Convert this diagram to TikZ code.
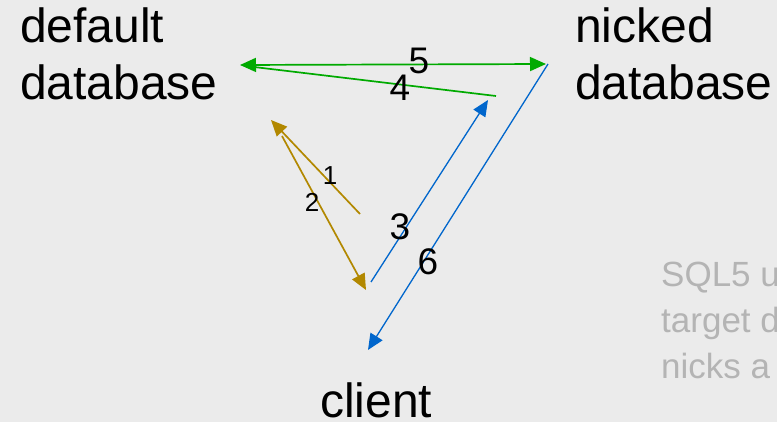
\documentclass[tikz,border=0pt]{standalone}
\usepackage{fontspec}
\setmainfont{Liberation Sans}
\usetikzlibrary{arrows.meta}
\definecolor{bgc}{RGB}{235,235,235}
\definecolor{grn}{RGB}{0,170,0}
\definecolor{blu}{RGB}{0,102,204}
\definecolor{gld}{RGB}{178,136,0}
\definecolor{gry}{RGB}{180,180,180}
\tikzset{
  lbl/.style={inner sep=0pt, anchor=base west, font=\fontsize{48}{57}\selectfont},
  num/.style={inner sep=0pt, font=\fontsize{37}{40}\selectfont},
  smallnum/.style={inner sep=0pt, font=\fontsize{26}{28}\selectfont},
  note/.style={inner sep=0pt, anchor=base west, text=gry, font=\fontsize{35}{40}\selectfont},
  tip/.style={-{Triangle[length=16pt,width=14pt]}},
  gline/.style={draw=grn, line width=1.7pt},
  bline/.style={draw=blu, line width=1.3pt},
  oline/.style={draw=gld, line width=1.7pt},
}
\begin{document}
\begin{tikzpicture}[x=1pt,y=-1pt]
\fill[bgc] (0,0) rectangle (777,422);
\useasboundingbox (0,0) rectangle (777,422);
% labels
\node[lbl] (def1) at (20,43) {default};
\node[lbl] (def2) at (20,100) {database};
\node[lbl] (nic1) at (575,43) {nicked};
\node[lbl] (nic2) at (575,100) {database};
\node[lbl] (cli) at (320,417) {client};
\node[note] (n1) at (661,287) {SQL5 u};
\node[note] (n2) at (661,333) {target d};
\node[note] (n3) at (661,378) {nicks a};
% endpoints
\coordinate (g5a) at (240,65);
\coordinate (g5b) at (546,64);
\coordinate (g4a) at (496,96);
\coordinate (g4b) at (254,67);
\coordinate (b6a) at (548,64);
\coordinate (b6b) at (368,350);
\coordinate (b3a) at (371,282);
\coordinate (b3b) at (488,100);
\coordinate (o1a) at (360,214);
\coordinate (o1b) at (271,120);
\coordinate (o2a) at (282,136);
\coordinate (o2b) at (366,290);
% connectors
\draw[gline, {Triangle[length=16pt,width=14pt]}-{Triangle[length=16pt,width=14pt]}] (g5a) -- (g5b);
\draw[gline] (g4a) -- (g4b);
\draw[bline, tip] (b6a) -- (b6b);
\draw[bline, tip] (b3a) -- (b3b);
\draw[oline, tip] (o1a) -- (o1b);
\draw[oline, tip] (o2a) -- (o2b);
% numbers
\node[num] (l5) at (419,61) {5};
\node[num] (l4) at (400,88) {4};
\node[num] (l3) at (400,227) {3};
\node[num] (l6) at (428,262) {6};
\node[smallnum] (l1) at (330,176) {1};
\node[smallnum] (l2) at (312,202) {2};
\end{tikzpicture}
\end{document}
